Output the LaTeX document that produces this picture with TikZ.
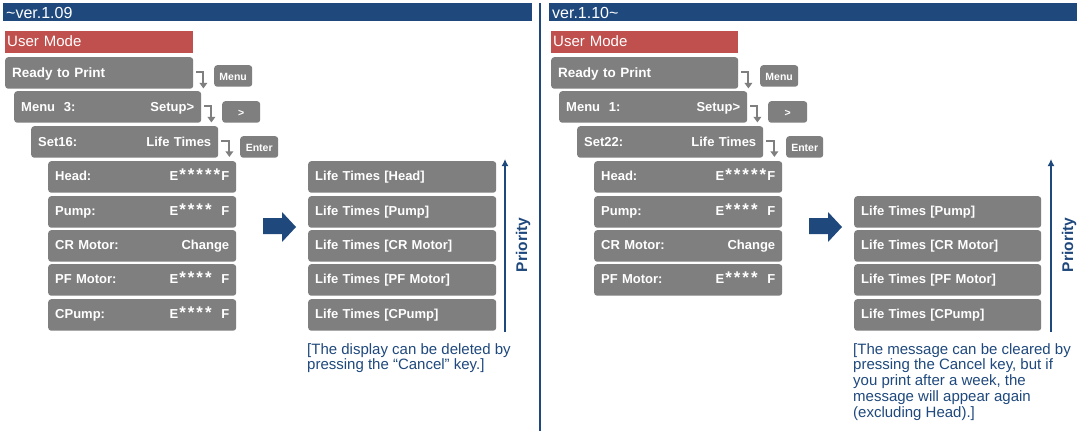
\documentclass[tikz,border=0pt]{standalone}
\usepackage{fontspec}
\setmainfont{Liberation Sans}
\usetikzlibrary{arrows.meta}
\definecolor{hdrblue}{RGB}{31,73,125}
\definecolor{umred}{RGB}{192,80,77}
\definecolor{lcdgray}{RGB}{127,127,127}
\newcommand\lcdstar{\makebox[8.6pt]{\raisebox{-0.5pt}{\scalebox{1.3}{*}}}}
\begin{document}
\begin{tikzpicture}[x=1pt,y=-1pt,
  hdrbar/.style={fill=hdrblue,text=white,anchor=north west,minimum height=18pt,inner xsep=3pt,inner ysep=0pt,text width=#1,font=\fontsize{16}{16}\selectfont,text height=12.6pt,text depth=0pt},
  modebar/.style={fill=umred,text=white,anchor=north west,minimum height=22pt,inner xsep=2pt,inner ysep=0pt,text width=#1,font=\fontsize{15}{15}\selectfont,text height=11pt,text depth=1.6pt},
  lcd/.style={fill=lcdgray,rounded corners=3pt,text=white,anchor=north west,minimum height=31.5pt,inner xsep=7pt,inner ysep=0pt,text width=#1,font=\bfseries\fontsize{13}{13}\selectfont,text height=10.5pt,text depth=1pt},
  lcditem/.style={lcd=#1,text height=9.5pt,text depth=2.5pt},
  keybtn/.style={fill=lcdgray,rounded corners=3pt,text=white,anchor=north west,minimum width=#1,minimum height=21.5pt,inner sep=0pt,text height=8.5pt,text depth=0pt,font=\bfseries\fontsize{10.5}{10.5}\selectfont},
  bent/.style={draw=lcdgray,line width=2pt,-{Triangle[width=7.5pt,length=5.5pt]}},
  prio/.style={draw=hdrblue,line width=2pt,-{Latex[width=7pt,length=7pt]}},
  priolabel/.style={text=hdrblue,rotate=90,inner sep=0pt,font=\bfseries\fontsize{15.5}{15.5}\selectfont},
  note/.style={text=hdrblue,anchor=base west,align=left,inner sep=0pt,font=\fontsize{15}{15.8}\selectfont},
  bigarrow/.style={fill=hdrblue},
  divider/.style={draw=hdrblue,line width=1.5pt},
]
\fill[white] (0,0) rectangle (1080,431);
\useasboundingbox (0,0) rectangle (1080,431);

% ---------------- left panel ----------------
\node[hdrbar=523pt] (hl) at (3,3) {\textasciitilde ver.1.09};
\node[modebar=184pt] (uml) at (5,31) {User Mode};
\node[lcd=174pt,font=\bfseries\fontsize{13.5}{13.5}\selectfont] (rpl) at (5,57) {Ready to Print};
\node[lcd=173pt] (m3) at (14,91) {Menu\ \ 3:\hfill Setup>};
\node[lcd=173pt] (s16) at (31,126) {Set16:\hfill Life Times};
\node[keybtn=38pt] (kmenul) at (214,65) {Menu};
\node[keybtn=38pt] (kgtl) at (222,101) {>};
\node[keybtn=38pt] (kentl) at (240,136) {Enter};
\draw[bent] ([xshift=3pt,yshift=1pt]rpl.east) -- ++(7,0) -- ++(0,16.5);
\draw[bent] ([xshift=3pt,yshift=1pt]m3.east) -- ++(7,0) -- ++(0,16.5);
\draw[bent] ([xshift=3pt,yshift=1pt]s16.east) -- ++(8,0) -- ++(0,16);

\node[lcditem=174pt] (hdl) at (48,161) {Head:\hfill E\lcdstar\lcdstar\lcdstar\lcdstar\lcdstar F};
\node[lcditem=174pt] (ppl) at (48,196) {Pump:\hfill E\lcdstar\lcdstar\lcdstar\lcdstar\hphantom{\lcdstar}F};
\node[lcditem=174pt] (crl) at (48,230) {CR Motor:\hfill Change};
\node[lcditem=174pt] (pfl) at (48,264) {PF Motor:\hfill E\lcdstar\lcdstar\lcdstar\lcdstar\hphantom{\lcdstar}F};
\node[lcditem=174pt] (cpl) at (48,299) {CPump:\hfill E\lcdstar\lcdstar\lcdstar\lcdstar\hphantom{\lcdstar}F};

\fill[bigarrow] (263,218) -- (282,218) -- (282,212) -- (296,227) -- (282,242) -- (282,234) -- (263,234) -- cycle;

\node[lcditem=174pt] (lhl) at (308,161) {Life Times [Head]};
\node[lcditem=174pt] (lpl) at (308,196) {Life Times [Pump]};
\node[lcditem=174pt] (lcl) at (308,230) {Life Times [CR Motor]};
\node[lcditem=174pt] (lfl) at (308,264) {Life Times [PF Motor]};
\node[lcditem=174pt] (lxl) at (308,299) {Life Times [CPump]};

\coordinate (pbl) at (505,332);
\coordinate (ptl) at (505,159);
\draw[prio] (pbl) -- (ptl);
\node[priolabel] (plabl) at (523,245) {Priority};

\node[note] (notel) at (307,369.8) {[The display can be deleted by\\pressing the “Cancel” key.]};

% ---------------- divider ----------------
\coordinate (dtop) at (540,3);
\coordinate (dbot) at (540,431);
\draw[divider] (dtop) -- (dbot);

% ---------------- right panel ----------------
\node[hdrbar=522pt] (hr) at (549,3) {ver.1.10\textasciitilde};
\node[modebar=183pt] (umr) at (551,31) {User Mode};
\node[lcd=173pt,font=\bfseries\fontsize{13.5}{13.5}\selectfont] (rpr) at (551,57) {Ready to Print};
\node[lcd=174pt] (m1) at (559,91) {Menu\ \ 1:\hfill Setup>};
\node[lcd=172pt] (s22) at (577,126) {Set22:\hfill Life Times};
\node[keybtn=38pt] (kmenur) at (760,65) {Menu};
\node[keybtn=39pt] (kgtr) at (768,101) {>};
\node[keybtn=37pt] (kentr) at (786,136) {Enter};
\draw[bent] ([xshift=3pt,yshift=1pt]rpr.east) -- ++(7,0) -- ++(0,16.5);
\draw[bent] ([xshift=3pt,yshift=1pt]m1.east) -- ++(7,0) -- ++(0,16.5);
\draw[bent] ([xshift=3pt,yshift=1pt]s22.east) -- ++(8,0) -- ++(0,16);

\node[lcditem=174pt] (hdr) at (594,161) {Head:\hfill E\lcdstar\lcdstar\lcdstar\lcdstar\lcdstar F};
\node[lcditem=174pt] (ppr) at (594,196) {Pump:\hfill E\lcdstar\lcdstar\lcdstar\lcdstar\hphantom{\lcdstar}F};
\node[lcditem=174pt] (crr) at (594,230) {CR Motor:\hfill Change};
\node[lcditem=174pt] (pfr) at (594,264) {PF Motor:\hfill E\lcdstar\lcdstar\lcdstar\lcdstar\hphantom{\lcdstar}F};

\fill[bigarrow] (809,218) -- (828,218) -- (828,212) -- (842,227) -- (828,242) -- (828,234) -- (809,234) -- cycle;

\node[lcditem=173pt] (lpr) at (854,196) {Life Times [Pump]};
\node[lcditem=173pt] (lcr) at (854,230) {Life Times [CR Motor]};
\node[lcditem=173pt] (lfr) at (854,264) {Life Times [PF Motor]};
\node[lcditem=173pt] (lxr) at (854,299) {Life Times [CPump]};

\coordinate (pbr) at (1051,332);
\coordinate (ptr) at (1051,159);
\draw[prio] (pbr) -- (ptr);
\node[priolabel] (plabr) at (1069,245) {Priority};

\node[note] (noter) at (853,417.2) {[The message can be cleared by\\pressing the Cancel key, but if\\you print after a week, the\\message will appear again\\(excluding Head).]};
\end{tikzpicture}
\end{document}
